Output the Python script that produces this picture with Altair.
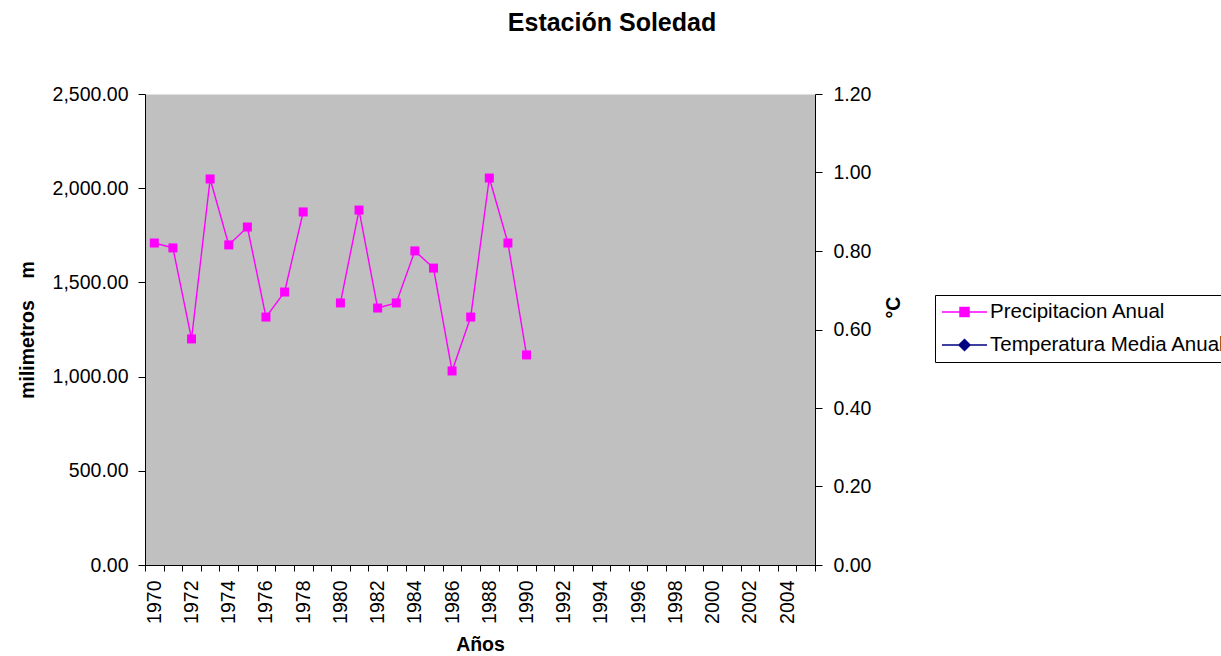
import altair as alt
import pandas as pd

# ---- data ----
anios = list(range(1970, 2006))
anios_precip = list(range(1970, 1991))
precipitacion = [1709, 1683, 1200, 2049, 1699, 1794, 1316, 1449, 1874, None,
                 1391, 1884, 1364, 1391, 1667, 1576, 1030, 1316, 2054, 1709, 1115]
temperatura = [None] * len(anios_precip)
series = ["Precipitacion Anual", "Temperatura Media Anual"]
colores = ["#FF00FF", "#000080"]
ticks_izq = [0, 500, 1000, 1500, 2000, 2500]
ticks_der = [0, 0.2, 0.4, 0.6, 0.8, 1.0, 1.2]

df_p = pd.DataFrame({"anio": anios_precip, "valor": precipitacion, "serie": series[0]})
df_t = pd.DataFrame({"anio": anios_precip, "valor": temperatura, "serie": series[1]})

FONT = "Liberation Sans"
FS = 19.5

# legend symbols: line with marker (custom paths)
sym_paths = [
    "M-1,0L3.5,0M0.8,-0.45L1.7,-0.45L1.7,0.45L0.8,0.45Z",
    "M-1,0L3.5,0M1.25,-0.55L1.8,0L1.25,0.55L0.7,0Z",
]

x_enc = alt.X(
    "anio:O",
    scale=alt.Scale(type="band", domain=anios, paddingInner=0, paddingOuter=0),
    axis=alt.Axis(
        title="Años",
        tickBand="extent",
        labelExpr="datum.value % 2 == 0 ? datum.label : ''",
        labelAngle=270,
        labelFontSize=FS,
        titleFontSize=FS,
        titleFontWeight="bold",
        tickSize=6,
        labelPadding=9,
        titlePadding=12,
        labelOverlap=False,
    ),
)

y_left = alt.Y(
    "valor:Q",
    scale=alt.Scale(domain=[0, 2500], nice=False),
    axis=alt.Axis(
        title="milimetros\u00a0\u00a0\u00a0\u00a0m",
        values=ticks_izq,
        format=",.2f",
        labelFontSize=FS,
        titleFontSize=FS,
        titleFontWeight="bold",
        tickSize=7,
        labelPadding=10,
        titlePadding=15,
    ),
)

y_right = alt.Y(
    "valor:Q",
    scale=alt.Scale(domain=[0, 1.2], nice=False),
    axis=alt.Axis(
        title="°C",
        orient="right",
        values=ticks_der,
        format=".2f",
        labelFontSize=FS,
        titleFontSize=FS,
        titleFontWeight="bold",
        titleAngle=270,
        titleAlign="center",
        titleBaseline="middle",
        titleX=78,
        titleY=213,
        tickSize=7,
        labelPadding=11,
    ),
)

leyenda = alt.Legend(
    title=None,
    orient="none",
    legendX=790,
    legendY=201,
    strokeColor="black",
    fillColor="white",
    padding=6,
    labelFontSize=20.5,
    labelFont=FONT,
    labelColor="black",
    labelLimit=500,
    labelOffset=27,
    symbolSize=400,
    symbolStrokeWidth=1.5,
    rowPadding=11,
)

base_p = alt.Chart(df_p)
linea = base_p.mark_line(color=colores[0], strokeWidth=1.4).encode(x=x_enc, y=y_left)
puntos = base_p.mark_square(color=colores[0], size=81, opacity=1).encode(x=x_enc, y=y_left)
precip_layer = alt.layer(linea, puntos)

temp_layer = alt.Chart(df_t).mark_point(filled=True, size=400, opacity=1, strokeWidth=1.5).encode(
    x=x_enc,
    y=y_right,
    fill=alt.Fill("serie:N", scale=alt.Scale(domain=series, range=colores), legend=leyenda),
    stroke=alt.Stroke("serie:N", scale=alt.Scale(domain=series, range=colores), legend=leyenda),
    shape=alt.Shape("serie:N", scale=alt.Scale(domain=series, range=sym_paths), legend=leyenda),
)

chart = (
    alt.layer(precip_layer, temp_layer)
    .resolve_scale(y="independent")
    .properties(
        width=670,
        height=471,
        autosize=alt.AutoSizeParams(type="none"),
        padding={"left": 145, "top": 94, "right": 406, "bottom": 91},
        title=alt.TitleParams(
            "Estación Soledad",
            fontSize=25,
            fontWeight="bold",
            font=FONT,
            color="black",
            anchor="middle",
            dx=132,
            offset=48,
        ),
        background="white",
    )
    .configure_view(fill="#C0C0C0", stroke="transparent")
    .configure_axis(
        grid=False,
        domainColor="black",
        tickColor="black",
        labelColor="black",
        titleColor="black",
        labelFont=FONT,
        titleFont=FONT,
        domainWidth=1,
        tickWidth=1,
    )
)

chart.save("out.html", embed_options={"renderer": "svg", "actions": False})
